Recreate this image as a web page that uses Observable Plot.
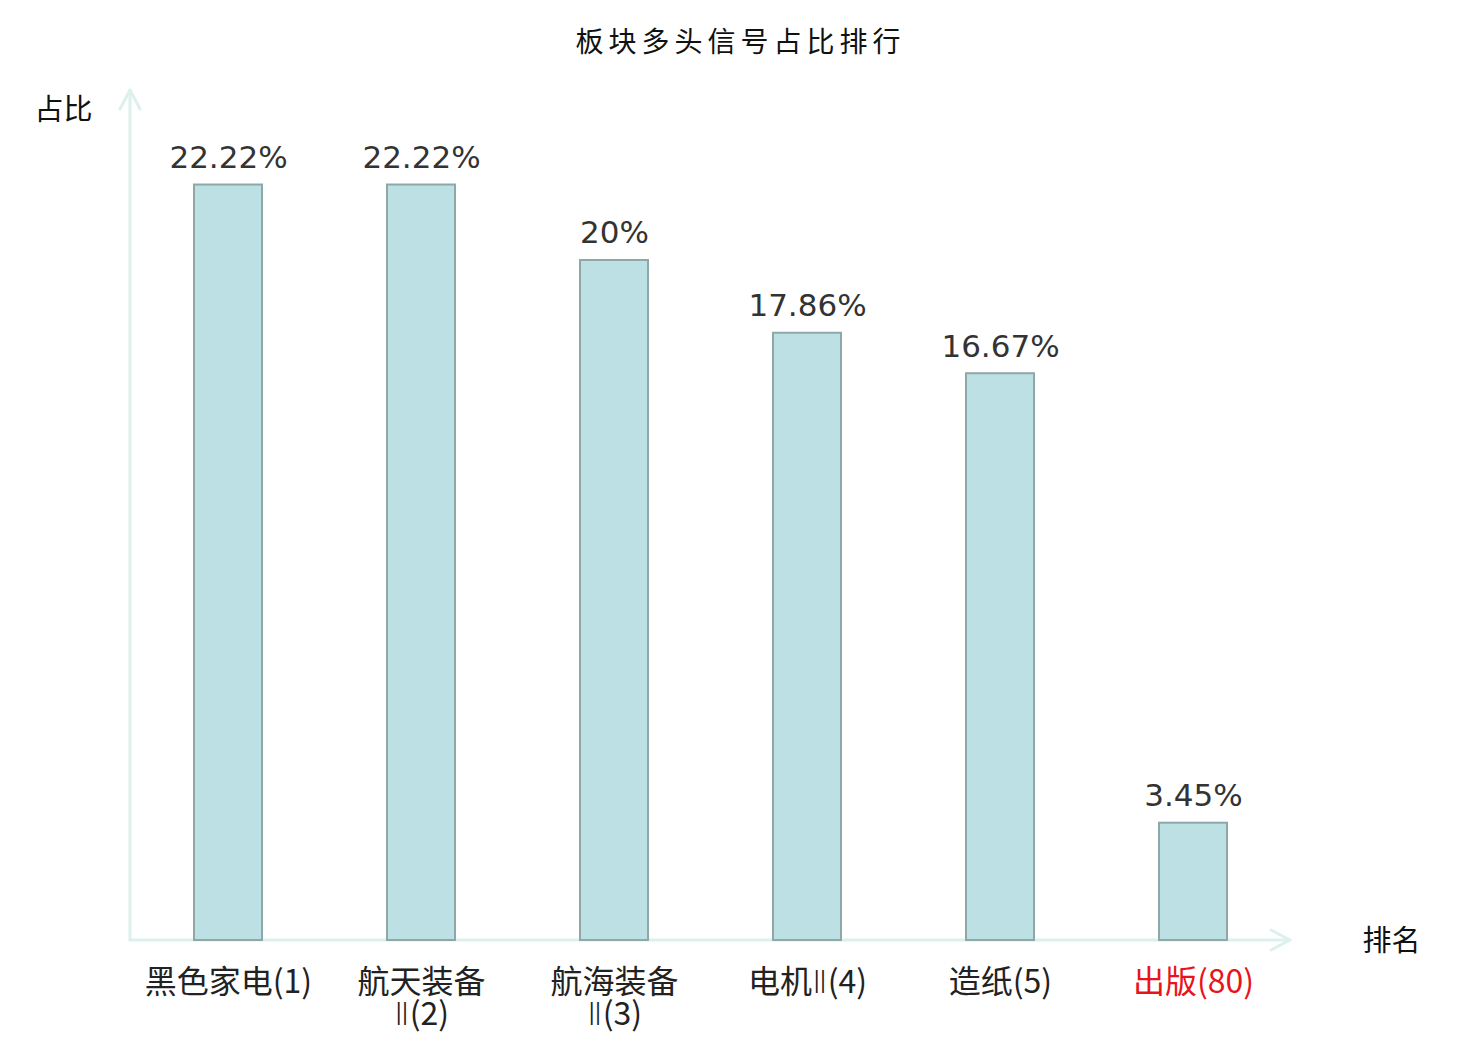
<!DOCTYPE html>
<html>
<head>
<meta charset="utf-8">
<script src="https://cdn.jsdelivr.net/npm/d3@7"></script>
<script src="https://cdn.jsdelivr.net/npm/@observablehq/plot@0.6"></script>
<style>
  html, body { margin: 0; padding: 0; background: #fff; }
</style>
</head>
<body>
<div id="chart"></div>
<script>
const categories = ["黑色家电", "航天装备Ⅱ", "航海装备Ⅱ", "电机Ⅱ", "造纸", "出版"];
const ranks = [1, 2, 3, 4, 5, 80];
const values = [22.22, 22.22, 20, 17.86, 16.67, 3.45];
const tickLabels = ["黑色家电(1)", "航天装备\nⅡ(2)", "航海装备\nⅡ(3)", "电机Ⅱ(4)", "造纸(5)", "出版(80)"];
const labelColors = ["#222222", "#222222", "#222222", "#222222", "#222222", "#e8141a"];
const yDomain = [0, 25];

const data = categories.map((c, i) => ({
  name: c, rank: ranks[i], value: values[i], tick: tickLabels[i], color: labelColors[i]
}));

const axisColor = "#dcf0ed";
const cjk = "'Noto Sans CJK SC', 'Noto Sans', sans-serif";

function axesWithArrows(index, scales, values, dimensions) {
  const {width, height, marginLeft, marginRight} = dimensions;
  const x0 = marginLeft, x1 = width - marginRight;
  const yb = scales.y(yDomain[0]), yt = scales.y(yDomain[1]);
  const g = d3.create("svg:g")
    .attr("fill", "none")
    .attr("stroke", axisColor)
    .attr("stroke-width", 3)
    .attr("stroke-linecap", "round")
    .attr("stroke-linejoin", "round");
  g.append("path").attr("d", `M${x0},${yb}V${yt}`);
  g.append("path").attr("d", `M${x0 - 10},${yt + 19}L${x0},${yt}L${x0 + 10},${yt + 19}`);
  g.append("path").attr("d", `M${x0},${yb}H${x1}`);
  g.append("path").attr("d", `M${x1 - 19},${yb - 10}L${x1},${yb}L${x1 - 19},${yb + 10}`);
  return g.node();
}

const chart = Plot.plot({
  width: 1480,
  height: 1040,
  marginLeft: 130,
  marginRight: 190,
  marginTop: 90,
  marginBottom: 100,
  x: {domain: categories, paddingInner: 0.648, paddingOuter: 0.324, axis: null},
  y: {domain: yDomain, axis: null},
  marks: [
    axesWithArrows,
    Plot.barY(data, {x: "name", y: "value", fill: "#bce0e3", stroke: "#8ea8a8", strokeWidth: 2}),
    Plot.text(data, {
      x: "name", y: "value", text: d => `${d.value}%`,
      dy: -27, fontSize: 31, fill: "#333333",
      fontFamily: "'DejaVu Sans', sans-serif"
    }),
    Plot.text(data, {
      x: "name", y: () => 0, text: "tick",
      fill: d => d.color, lineAnchor: "top", dy: 30, lineHeight: 1.0,
      fontSize: 32, fontFamily: cjk, className: "ticklabels"
    }),
    Plot.text(["占比"], {frameAnchor: "top-left", textAnchor: "middle", lineAnchor: "middle", dx: -67, dy: 20, fontSize: 29, fill: "#111", fontFamily: cjk}),
    Plot.text(["排名"], {frameAnchor: "bottom-right", textAnchor: "middle", lineAnchor: "middle", dx: 101, dy: 1, fontSize: 29, fill: "#111", fontFamily: cjk}),
    Plot.text(["板块多头信号占比排行"], {
      frameAnchor: "top", lineAnchor: "middle", dx: 30, dy: -47, fontSize: 28, fill: "#111",
      fontFamily: cjk, className: "charttitle"
    })
  ],
  style: {background: "#fff", overflow: "visible"}
});

chart.querySelectorAll(".charttitle text").forEach(t => t.setAttribute("letter-spacing", "5"));

// render the Roman numeral Ⅱ with a narrow glyph, as in the reference
chart.querySelectorAll(".ticklabels text, .ticklabels tspan").forEach(el => {
  Array.from(el.childNodes).forEach(node => {
    if (node.nodeType === 3 && node.nodeValue.includes("Ⅱ")) {
      const parts = node.nodeValue.split("Ⅱ");
      const frag = document.createDocumentFragment();
      parts.forEach((p, i) => {
        if (i > 0) {
          const ts = document.createElementNS("http://www.w3.org/2000/svg", "tspan");
          ts.setAttribute("font-family", "'DejaVu Sans', sans-serif");
          ts.setAttribute("font-weight", "300");
          ts.textContent = "Ⅱ";
          frag.appendChild(ts);
        }
        if (p) frag.appendChild(document.createTextNode(p));
      });
      el.replaceChild(frag, node);
    }
  });
});
document.getElementById("chart").appendChild(chart);
</script>
</body>
</html>
